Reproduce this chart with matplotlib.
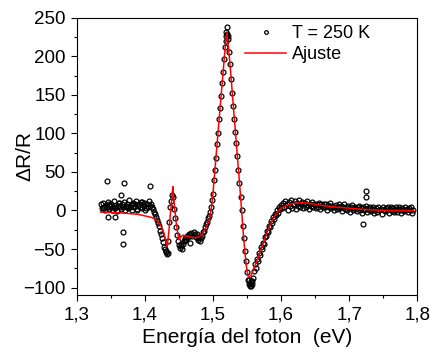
import numpy as np
import matplotlib
matplotlib.use('Agg')
import matplotlib.pyplot as plt
from matplotlib.ticker import MultipleLocator

plt.rcParams['font.family'] = ['Liberation Sans', 'DejaVu Sans']

# measured spectrum: energy grid (eV) and dR/R values
e_start = 1.335
e_step = 0.0015
dr = [
    8, 3, 10, 5, 1, 7, 4, 11, 2, 6,
    9, 0, 5, 12, 3, 7, -1, 6, 10, 4,
    2, 8, 5, 11, 0, 6, 9, 3, 13, 5,
    7, 1, 10, 4, 8, 12, 2, 6, 9, 5,
    11, 3, 7, 10, 1, 8, 5, 12, 6, 9,
    4, 2, -2, -4, -8, -12, -16, -20, -26, -30,
    -36, -41, -47, -50, -54, -56, -40, -15, 5, 12,
    20, 18, 2, -10, -22, -32, -40, -45, -49, -46,
    -50, -44, -40, -36, -38, -33, -35, -30, -32, -29,
    -33, -28, -31, -35, -30, -38, -34, -40, -36, -33,
    -28, -26, -22, -18, -15, -10, -7, -2, 5, 13,
    22, 40, 52, 68, 86, 100, 118, 133, 148, 165,
    180, 196, 212, 226, 238, 222, 205, 190, 170, 152,
    136, 118, 102, 88, 70, 52, 35, 18, 0, -20,
    -36, -52, -66, -80, -90, -95, -98, -92, -96, -88,
    -78, -70, -74, -63, -66, -55, -58, -48, -50, -42,
    -44, -35, -33, -27, -28, -20, -22, -14, -16, -9,
    -11, -4, -6, 0, -3, 4, 2, 7, 3, 10,
    5, 12, 8, 1, 11, 6, 14, 3, 9, 7,
    12, 2, 10, 6, 13, 4, 9, 11, 3, 8,
    10, 5, 12, 7, 2, 9, 6, 11, 4, 8,
    7, 3, 9, 5, 10, 2, 8, 6, 4, 9,
    5, 8, 1, 7, 4, 10, 3, 6, 0, 5,
    7, 2, 5, 9, 3, 6, -1, 4, 8, 2,
    5, 1, 6, 3, -2, 4, 7, 0, 3, 5,
    2, -1, 4, 6, 0, 3, -3, 5, 1, 2,
    6, -2, 3, 0, 4, -1, 2, 5, -3, 1,
    3, -2, 4, 0, 2, -4, 5, 1, -1, 3,
    0, 4, -3, 2, 5, -1, 3, -2, 1, 4,
    -2, 2, 5, 0, -3, 3, 1, -1, 4, 0,
    2, -2, 3, 0, 4, -3, 1,
]
energy = e_start + e_step * np.arange(len(dr))

# extra points (outliers and repeated points near extrema)
extra_e = [1.344, 1.3455, 1.356, 1.365, 1.3675, 1.3685, 1.370, 1.4075,
           1.7245, 1.7245, 1.7205,
           1.5185, 1.5198, 1.5208, 1.522,
           1.5535, 1.5548, 1.5562, 1.5575,
           1.338, 1.347, 1.353, 1.362, 1.374, 1.381, 1.389, 1.396, 1.402,
           1.4305, 1.4335, 1.4525, 1.4585, 1.466, 1.478]
extra_dr = [38, -9, -8, 20, -44, -28, 35, 32,
            25, 18, -18,
            220, 232, 229, 226,
            -90, -96, -98, -91,
            2, 9, 1, 10, 4, 9, 0, 11, 3,
            -52, -55, -44, -38, -42, -36]

# fitted curve
fit_e = [1.335, 1.35, 1.37, 1.39, 1.40, 1.41, 1.415, 1.42, 1.425, 1.428,
         1.431, 1.433, 1.4355, 1.438, 1.440, 1.4412, 1.443, 1.446, 1.449, 1.4505,
         1.453, 1.456, 1.46, 1.465, 1.47, 1.475, 1.48, 1.485, 1.49, 1.495,
         1.498, 1.50, 1.505, 1.51, 1.515, 1.518, 1.5203, 1.523, 1.526, 1.53,
         1.535, 1.54, 1.545, 1.549, 1.552, 1.556, 1.56, 1.565, 1.57, 1.575,
         1.58, 1.585, 1.59, 1.595, 1.60, 1.61, 1.62, 1.63, 1.64, 1.65,
         1.66, 1.67, 1.68, 1.70, 1.72, 1.74, 1.76, 1.795]
fit_dr = [-2, -2.5, -3.5, -5, -7, -9, -11, -15, -22, -29,
          -40, -47, -25, 0, 20, 31, 10, -15, -33, -38,
          -34, -32, -33, -34, -35, -35, -34, -30, -22, -12,
          5, 22, 75, 128, 180, 212, 230, 210, 180, 135,
          80, 25, -35, -72, -87, -84, -76, -64, -52, -40,
          -27, -17, -8, -2, 3, 7.5, 9.5, 10, 9.5, 8,
          6.5, 5.5, 4.5, 3, 1.5, 0.5, 0, 0]

xticks = [1.3, 1.4, 1.5, 1.6, 1.7, 1.8]
xtick_labels = ['1,3', '1,4', '1,5', '1,6', '1,7', '1,8']
yticks = [-100, -50, 0, 50, 100, 150, 200, 250]

fig = plt.figure(figsize=(4.35, 3.52), dpi=100)
ax = fig.add_axes([0.1763, 0.1611, 0.7830, 0.7886])

all_e = np.concatenate([energy, extra_e])
all_dr = np.concatenate([dr, extra_dr])
ax.plot(all_e, all_dr, linestyle='none', marker='o', ms=3.5, mfc='none',
        mec='black', mew=0.9, label='T = 250 K')
ax.plot(fit_e, fit_dr, color='#ff0000', lw=1.1, label='Ajuste')

ax.set_xlim(1.3, 1.8)
ax.set_ylim(-110, 250)
ax.set_xticks(xticks)
ax.set_xticklabels(xtick_labels)
ax.set_yticks(yticks)
ax.xaxis.set_minor_locator(MultipleLocator(0.05))
ax.yaxis.set_minor_locator(MultipleLocator(25))
ax.tick_params(which='both', direction='out', top=False, right=False,
               labelsize=13.5, width=0.8)
ax.tick_params(which='major', length=4.5)
ax.tick_params(which='minor', length=2.5)
for sp in ax.spines.values():
    sp.set_linewidth(0.8)

ax.set_xlabel('Energía del foton  (eV)', fontsize=15, labelpad=3)
ax.set_ylabel('\u0394R/R', fontsize=15)
ax.yaxis.set_label_coords(-0.125, 0.5)

ax.legend(loc='upper left', bbox_to_anchor=(0.494, 0.974), frameon=False,
          fontsize=13, numpoints=1, markerscale=0.75, handlelength=2.3,
          handletextpad=0.3, labelspacing=0.25, borderpad=0, borderaxespad=0)

fig.savefig('out.png', dpi=100)
